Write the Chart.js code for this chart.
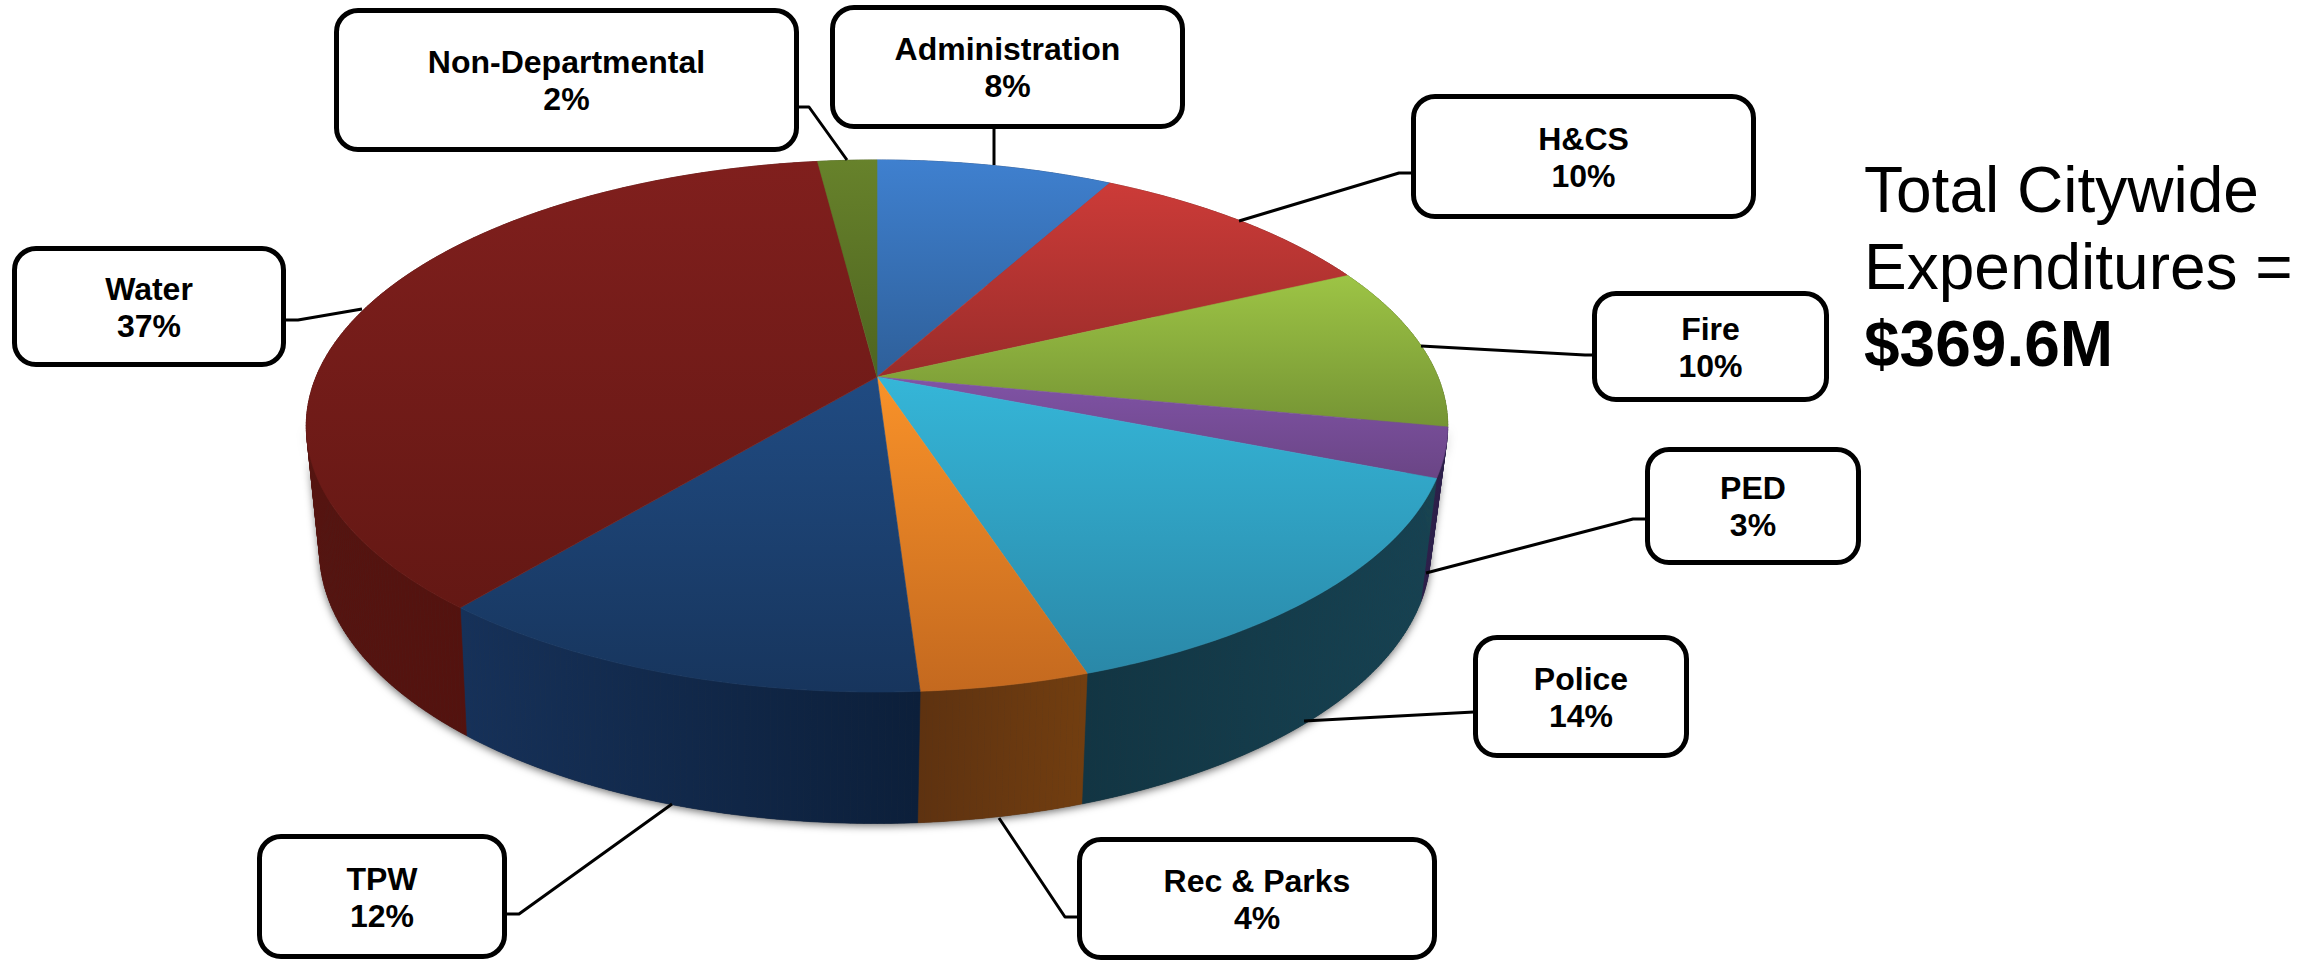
<!DOCTYPE html>
<html>
<head>
<meta charset="utf-8">
<title>Total Citywide Expenditures</title>
<script src="https://cdn.jsdelivr.net/npm/chart.js@4"></script>
<style>
    html, body { margin: 0; padding: 0; background: #fff; overflow: hidden; }
    #stage { position: relative; width: 2323px; height: 960px; font-family: "Liberation Sans", Arial, sans-serif; color: #000; }
    #pie { position: absolute; left: 0; top: 0; }
    .callout {
        position: absolute; box-sizing: border-box; background: #fff;
        border: 5px solid #000; border-radius: 24px;
        display: flex; align-items: center; justify-content: center; text-align: center;
        font-weight: bold; font-size: 32px; line-height: 37px; padding-top: 2px;
    }
    #total { position: absolute; left: 1864px; top: 152px; font-size: 64px; line-height: 77px; white-space: nowrap; }
    #total b { display: block; }
</style>
</head>
<body>
<div id="stage">
    <canvas id="pie" width="2323" height="960"></canvas>
    <div id="total"></div>
</div>
<script>
const categories = ['Administration', 'H&CS', 'Fire', 'PED', 'Police', 'Rec & Parks', 'TPW', 'Water', 'Non-Departmental'];
const shares = [8, 10, 10, 3, 14, 4, 12, 37, 2];
const totalLines = ['Total Citywide', 'Expenditures =', '$369.6M'];

// top surface gradient, light then dark
const topLight = ['#3f80cf', '#cc3b38', '#9dc445', '#8053a6', '#35b6d8', '#f99229', '#204b82', '#801f1d', '#67822b'];
const topDark = ['#2e5f99', '#9a2c2a', '#759434', '#6a4585', '#2a88a8', '#c4691f', '#17355d', '#641814', '#4e6420'];
// side wall gradient, left then right
const wallLeft = ['#24406a', '#6b1e1c', '#506522', '#2c1f4a', '#123543', '#5e3210', '#163159', '#551410', '#3a4a18'];
const wallRight = ['#24406a', '#6b1e1c', '#506522', '#2c1f4a', '#164252', '#723e10', '#0c1f3a', '#4f0f0c', '#3a4a18'];

// layout, not data: [x, y, w, h] of each box and the elbow line back to the pie
const boxes = [
    [830, 5, 355, 124], [1411, 94, 345, 125], [1592, 291, 237, 111], [1645, 447, 216, 118],
    [1473, 635, 216, 123], [1077, 837, 360, 123], [257, 834, 250, 125], [12, 246, 274, 121], [334, 8, 465, 144]
];
const leaders = [
    [[994, 128], [994, 165]],
    [[1412, 173], [1399, 173], [1239, 221]],
    [[1593, 355], [1585, 355], [1421, 346]],
    [[1646, 519], [1633, 519], [1426, 573]],
    [[1474, 712], [1304, 721]],
    [[1078, 917], [1065, 917], [999, 818]],
    [[506, 914], [519, 914], [672, 804]],
    [[285, 320], [298, 320], [362, 309]],
    [[798, 107], [809, 107], [847, 160]]
];

// perspective of the pie, in units of the chart's own outer radius
const topFace = { dx: 0, dy: 0, sx: 1.488, sy: 0.6817, p: 0.1842 };
const baseFace = { dx: -0.005, dy: 0.321, sx: 1.445, sy: 0.695, p: 0.195 };

function project(arc, face, angle) {
    const u = Math.cos(angle), v = Math.sin(angle);
    const w = 1 / (1 - face.p * v);
    return {
        x: arc.x + arc.outerRadius * (face.dx + face.sx * u * w),
        y: arc.y + arc.outerRadius * (face.dy + face.sy * v * w)
    };
}

function edgePoints(arc, face, from, to) {
    const steps = Math.max(2, Math.ceil(Math.abs(to - from) / 0.01));
    const pts = [];
    for (let i = 0; i <= steps; i++) {
        pts.push(project(arc, face, from + (to - from) * i / steps));
    }
    return pts;
}

function tracePath(ctx, pts) {
    ctx.beginPath();
    pts.forEach((p, i) => i ? ctx.lineTo(p.x, p.y) : ctx.moveTo(p.x, p.y));
    ctx.closePath();
}

function paint(ctx, pts, fill) {
    tracePath(ctx, pts);
    ctx.fillStyle = fill;
    ctx.fill();
    ctx.strokeStyle = fill;
    ctx.lineWidth = 0.6;
    ctx.stroke();
}

const pie3d = {
    id: 'pie3d',
    beforeDatasetDraw(chart) {
        const ctx = chart.ctx;
        const arcs = chart.getDatasetMeta(0).data;
        const first = arcs[0];

        // soft shadow under the front of the pie: outline from widest point to widest point
        const topWide = Math.asin(topFace.p), baseWide = Math.asin(baseFace.p);
        const rimTop = edgePoints(first, topFace, topWide, Math.PI - topWide);
        const rimBase = edgePoints(first, baseFace, Math.PI - baseWide, baseWide);
        ctx.save();
        ctx.shadowColor = 'rgba(0, 0, 0, 0.6)';
        ctx.shadowBlur = 9;
        ctx.shadowOffsetY = 2;
        tracePath(ctx, rimTop.concat(rimBase));
        ctx.fillStyle = '#333';
        ctx.fill();
        ctx.restore();

        // side walls, one small quad at a time so that the sides stay filled
        arcs.forEach((arc, i) => {
            const upper = edgePoints(arc, topFace, arc.startAngle, arc.endAngle);
            const lower = edgePoints(arc, baseFace, arc.startAngle, arc.endAngle);
            const xs = upper.concat(lower).map(p => p.x);
            const g = ctx.createLinearGradient(Math.min(...xs), 0, Math.max(...xs), 0);
            g.addColorStop(0, wallLeft[i]);
            g.addColorStop(1, wallRight[i]);
            for (let k = 0; k < upper.length - 1; k++) {
                paint(ctx, [upper[k], upper[k + 1], lower[k + 1], lower[k]], g);
            }
        });

        // top surface
        arcs.forEach((arc, i) => {
            const pts = edgePoints(arc, topFace, arc.startAngle, arc.endAngle);
            pts.push({ x: arc.x, y: arc.y });
            const ys = pts.map(p => p.y);
            const g = ctx.createLinearGradient(0, Math.min(...ys), 0, Math.max(...ys));
            g.addColorStop(0, topLight[i]);
            g.addColorStop(1, topDark[i]);
            paint(ctx, pts, g);
        });

        // the flat round pie of the library is replaced by the drawing above
        return false;
    },
    afterDatasetsDraw(chart) {
        const ctx = chart.ctx;
        ctx.save();
        ctx.strokeStyle = '#000';
        ctx.lineWidth = 3;
        ctx.lineJoin = 'round';
        leaders.forEach(line => {
            ctx.beginPath();
            line.forEach((p, i) => i ? ctx.lineTo(p[0], p[1]) : ctx.moveTo(p[0], p[1]));
            ctx.stroke();
        });
        ctx.restore();
    }
};

new Chart(document.getElementById('pie'), {
    type: 'pie',
    data: {
        labels: categories,
        datasets: [{
            data: shares,
            backgroundColor: topLight,
            borderWidth: 0
        }]
    },
    options: {
        responsive: false,
        animation: false,
        devicePixelRatio: 1,
        events: [],
        layout: { padding: { left: 0, top: 0, right: 569, bottom: 206 } },
        plugins: {
            legend: { display: false },
            tooltip: { enabled: false }
        }
    },
    plugins: [pie3d]
});

const stage = document.getElementById('stage');
categories.forEach((name, i) => {
    const el = document.createElement('div');
    el.className = 'callout';
    el.style.left = boxes[i][0] + 'px';
    el.style.top = boxes[i][1] + 'px';
    el.style.width = boxes[i][2] + 'px';
    el.style.height = boxes[i][3] + 'px';
    const label = document.createElement('div');
    label.appendChild(document.createTextNode(name));
    label.appendChild(document.createElement('br'));
    label.appendChild(document.createTextNode(shares[i] + '%'));
    el.appendChild(label);
    stage.appendChild(el);
});

const total = document.getElementById('total');
total.appendChild(document.createTextNode(totalLines[0]));
total.appendChild(document.createElement('br'));
total.appendChild(document.createTextNode(totalLines[1]));
const amount = document.createElement('b');
amount.textContent = totalLines[2];
total.appendChild(amount);
</script>
</body>
</html>
